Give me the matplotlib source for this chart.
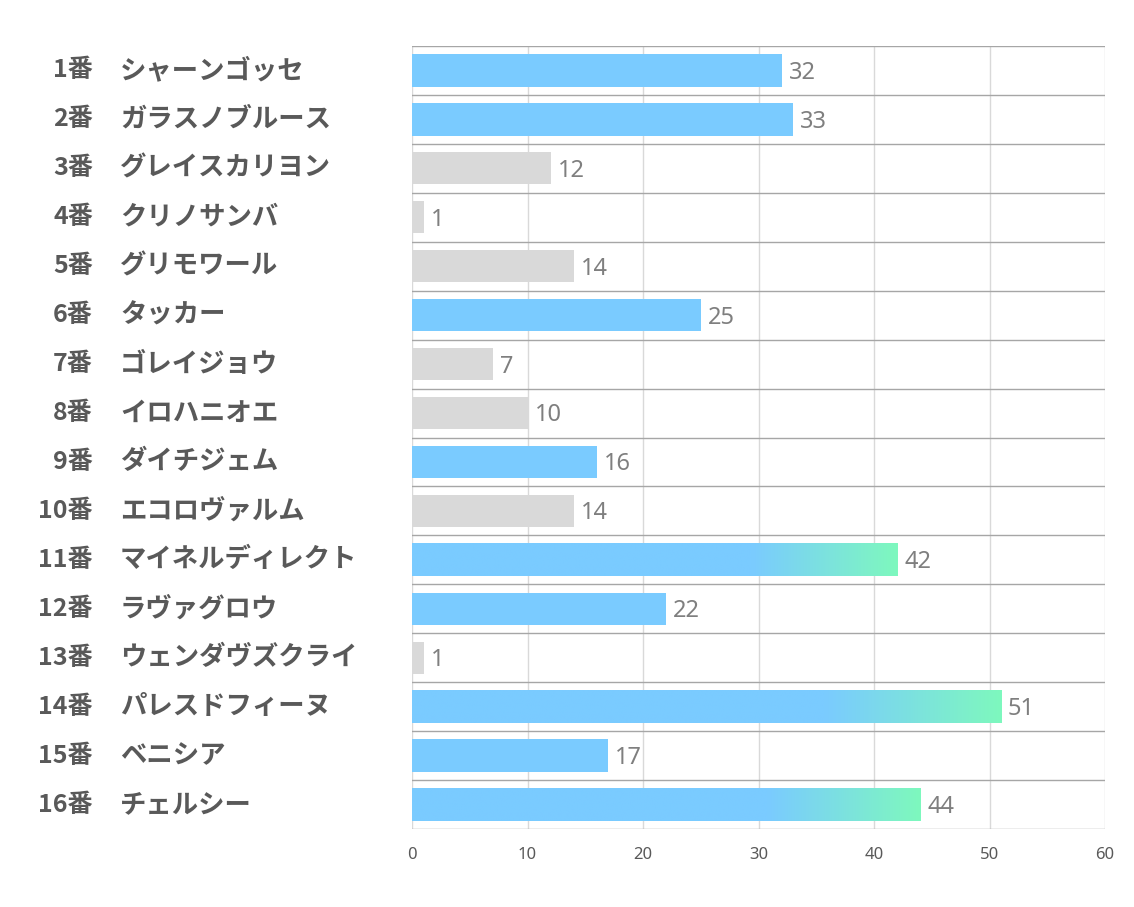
import numpy as np
import matplotlib.pyplot as plt
import matplotlib.transforms as mtransforms
from matplotlib.colors import LinearSegmentedColormap

plt.rcParams['font.family'] = ['Noto Sans CJK JP', 'DejaVu Sans']

numbers = ["1番", "2番", "3番", "4番", "5番", "6番", "7番", "8番",
           "9番", "10番", "11番", "12番", "13番", "14番", "15番", "16番"]
names = ["シャーンゴッセ", "ガラスノブルース", "グレイスカリヨン", "クリノサンバ",
         "グリモワール", "タッカー", "ゴレイジョウ", "イロハニオエ",
         "ダイチジェム", "エコロヴァルム", "マイネルディレクト", "ラヴァグロウ",
         "ウェンダヴズクライ", "パレスドフィーヌ", "ベニシア", "チェルシー"]
values = [32, 33, 12, 1, 14, 25, 7, 10, 16, 14, 42, 22, 1, 51, 17, 44]
# 0 = gray, 1 = blue, 2 = blue with green gradient
kind = [1, 1, 0, 0, 0, 1, 0, 0, 1, 0, 2, 1, 0, 2, 1, 2]
xticks = [0, 10, 20, 30, 40, 50, 60]

BLUE = "#7ACBFF"
GREEN = "#7EF8BE"
GRAY = "#D9D9D9"
TEXT = "#595959"

fig = plt.figure(figsize=(11.34, 9.07), dpi=100)
ax = fig.add_axes([412 / 1134, 1 - 829 / 907, 693 / 1134, 783 / 907])

n = len(values)
y = np.arange(n)
h = 0.66
grad_cmap = LinearSegmentedColormap.from_list("bg", [BLUE, GREEN])

for i in range(n):
    v = values[i]
    if kind[i] == 2:
        t = np.linspace(0, 1, 300)
        g = np.clip((t - 0.7) / 0.3, 0, 1)
        ax.imshow(g[np.newaxis, :], cmap=grad_cmap, vmin=0, vmax=1,
                  extent=[0, v, i + h / 2, i - h / 2], aspect='auto',
                  interpolation='bilinear', zorder=2)
    else:
        ax.barh(i, v, height=h, color=BLUE if kind[i] == 1 else GRAY, zorder=2)
    ax.text(v + 0.6, i + 0.05, str(v), va='center', ha='left', fontsize=17,
            color="#7F7F7F", family=['Noto Sans', 'DejaVu Sans'])

ax.set_xlim(0, 60)
ax.set_ylim(n - 0.5, -0.5)
ax.set_xticks(xticks)
ax.set_yticks([])
ax.tick_params(axis='x', length=0, labelsize=12, labelcolor=TEXT, pad=13)
for lbl in ax.get_xticklabels():
    lbl.set_family(['Noto Sans', 'DejaVu Sans'])

for xv in xticks:
    ax.axvline(xv, color="#D9D9D9", lw=1, zorder=1)
for b in np.arange(-0.5, n, 1.0):
    ax.axhline(b, color="#A6A6A6", lw=1, zorder=1)
for s in ax.spines.values():
    s.set_visible(False)

trans = mtransforms.blended_transform_factory(fig.transFigure, ax.transData)
for i in range(n):
    ax.text(93 / 1134, i, numbers[i], transform=trans, ha='right', va='center',
            fontsize=18, fontweight='bold', color=TEXT)
    ax.text(120 / 1134, i, names[i], transform=trans, ha='left', va='center',
            fontsize=19, fontweight='bold', color=TEXT)

fig.savefig("out.png", dpi=100, facecolor='white')
